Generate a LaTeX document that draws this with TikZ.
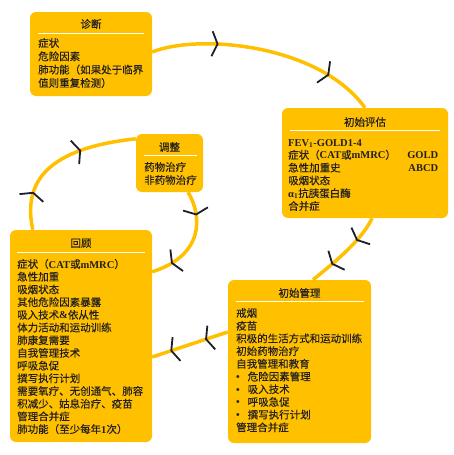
\documentclass[tikz,border=0pt]{standalone}
\usepackage{fontspec}
\newfontfamily\cjk[FakeBold=0.2]{Noto Sans CJK SC}
\newfontfamily\cjkt[FakeBold=0.5]{Noto Sans CJK SC}
\newfontfamily\tms{Liberation Serif}
\usetikzlibrary{arrows.meta,decorations.markings,calc}
\definecolor{boxfill}{HTML}{FFC000}
\definecolor{txt}{HTML}{231F20}
\definecolor{chevc}{HTML}{1E1E2A}
\newcommand\lat[1]{{\tms\bfseries #1}}
\newcommand\bul{\makebox[11.5pt][l]{\tms\bfseries •}}
\tikzset{
  box/.style={draw=none, fill=boxfill, rounded corners=6pt, inner sep=0pt},
  title/.style={font=\cjkt\fontsize{10.5}{12}\selectfont, text=txt, inner sep=0pt, anchor=base},
  body/.style={font=\cjk\fontsize{10.5}{12.7}\selectfont, text=txt, inner sep=0pt, anchor=base west, align=left},
  rule/.style={draw=white, line width=0.8pt},
  flow/.style={draw=boxfill, line width=3.5pt},
  chevtip/.tip={Straight Barb[length=5.5pt,width=25pt,line width=1.8pt,color=chevc]},
  twomarks/.style 2 args={postaction={decorate}, decoration={markings,
      mark=at position #1 with {\arrow{chevtip}},
      mark=at position #2 with {\arrow{chevtip}}}},
}
\begin{document}
\begin{tikzpicture}[x=1pt,y=-1pt]
\fill[white] (0,0) rectangle (454,455);
\useasboundingbox (0,0) rectangle (454,455);

% boxes
\node[box, minimum width=122pt, minimum height=84pt] (zd) at (91,54) {};
\node[box, minimum width=166pt, minimum height=110pt] (pg) at (365,163) {};
\node[box, minimum width=143pt, minimum height=163pt] (gl) at (299.5,361.5) {};
\node[box, minimum width=142pt, minimum height=212pt] (hg) at (81,336) {};
\node[box, minimum width=67pt, minimum height=58pt] (tz) at (169.5,163) {};

% connectors
\draw[flow, twomarks={0.29}{0.79}] ($(zd.east)+(0,-2)$) .. controls (200,33) and (320,45) .. (pg.north);
\draw[flow, twomarks={0.32}{0.72}] ($(pg.south)+(7,0)$) .. controls (362,240) and (335,262) .. ($(gl.north)+(13.5,0)$);
\draw[flow, twomarks={0.30}{0.76}] ($(gl.west)+(0,-29.5)$) -- ($(hg.east)+(0,21)$);
\draw[flow, twomarks={0.24}{0.65}] ($(hg.north west)+(23,0)$) .. controls (22,180) and (50,148) .. ($(tz.north west)+(0,5)$);
\draw[flow, twomarks={0.24}{0.80}] ($(tz.south)+(18.5,0)$) .. controls (202,215) and (205,255) .. ($(hg.north east)+(0,42)$);

% 诊断
\node[title] (zdT) at (91,28) {诊断};
\draw[rule] ($(zd.north west)+(8,22)$) -- ($(zd.north east)+(-8,22)$);
\node[body, text width=118pt, font=\cjk\fontsize{10.5}{13.3}\selectfont] (zdB) at (38,47) {症状\\危险因素\\肺功能（如果处于临界\\值则重复检测）};

% 初始评估
\node[title] (pgT) at (365,126) {初始评估};
\draw[rule] ($(pg.north west)+(8,23)$) -- ($(pg.north east)+(-8,23)$);
\node[body, text width=150pt, font=\cjk\fontsize{10.5}{12.8}\selectfont] (pgB) at (288,146) {\lat{FEV\textsubscript{1}-GOLD1-4}\\
症状（\lat{CAT}或\lat{mMRC}）\hfill\lat{GOLD}\\
急性加重史\hfill\lat{ABCD}\\
吸烟状态\\
\lat{α\textsubscript{1}}抗胰蛋白酶\\
合并症};

% 初始管理
\node[title] (glT) at (299.5,297) {初始管理};
\draw[rule] ($(gl.north west)+(8,22)$) -- ($(gl.north east)+(-7,22)$);
\node[body, text width=135pt] (glB) at (236,317) {戒烟\\疫苗\\积极的生活方式和运动训练\\初始药物治疗\\自我管理和教育\\
\bul 危险因素管理\\\bul 吸入技术\\\bul 呼吸急促\\\bul 撰写执行计划\\管理合并症};

% 回顾
\node[title] (hgT) at (81,247) {回顾};
\draw[rule] ($(hg.north west)+(7,23)$) -- ($(hg.north east)+(-7,23)$);
\node[body, text width=133pt] (hgB) at (17,268) {症状（\lat{CAT}或\lat{mMRC}）\\急性加重\\吸烟状态\\其他危险因素暴露\\吸入技术\lat{\&}依从性\\体力活动和运动训练\\肺康复需要\\自我管理技术\\呼吸急促\\撰写执行计划\\需要氧疗、无创通气、肺容\\积减少、姑息治疗、疫苗\\管理合并症\\肺功能（至少每年\lat{1}次）};

% 调整
\node[title] (tzT) at (169.5,151) {调整};
\draw[rule] ($(tz.north west)+(8,22)$) -- ($(tz.north east)+(-6,22)$);
\node[body, text width=60pt, font=\cjk\fontsize{10.5}{13}\selectfont] (tzB) at (144,171) {药物治疗\\非药物治疗};
\end{tikzpicture}
\end{document}
